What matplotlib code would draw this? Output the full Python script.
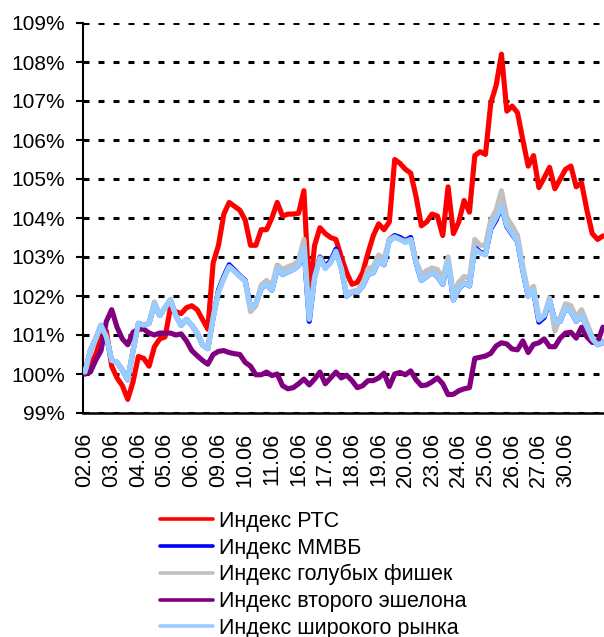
import numpy as np
import matplotlib
matplotlib.use("Agg")
import matplotlib.pyplot as plt

plt.rcParams['font.family'] = ['Liberation Sans', 'DejaVu Sans']
plt.rcParams['lines.scale_dashes'] = False

# trading days (tick labels), 5 readings per day
days = ["02.06", "03.06", "04.06", "05.06", "06.06", "09.06", "10.06", "11.06",
        "16.06", "17.06", "18.06", "19.06", "20.06", "23.06", "24.06", "25.06",
        "26.06", "27.06", "30.06"]
per_day = 5

rts = [100.0, 100.2, 100.5, 100.9, 101.1, 100.2, 99.9, 99.7, 99.35, 99.8,
       100.45, 100.4, 100.2, 100.7, 100.9, 100.95, 101.7, 101.6, 101.55, 101.7,
       101.75, 101.65, 101.4, 101.15, 102.85, 103.3, 104.1, 104.4, 104.3, 104.2,
       103.95, 103.3, 103.3, 103.7, 103.7, 104.0, 104.4, 104.05, 104.1, 104.1,
       104.12, 104.7, 102.0, 103.3, 103.75, 103.6, 103.5, 103.45, 103.0, 102.6,
       102.3, 102.35, 102.6, 103.1, 103.55, 103.85, 103.7, 103.9, 105.5, 105.4,
       105.25, 105.15, 104.55, 103.8, 103.9, 104.1, 104.05, 103.55, 104.8, 103.6,
       103.9, 104.45, 104.15, 105.6, 105.7, 105.63, 106.95, 107.4, 108.2, 106.74,
       106.87, 106.7, 106.0, 105.33, 105.6, 104.78, 105.03, 105.3, 104.75, 105.0,
       105.25, 105.33, 104.8, 104.9, 104.2, 103.6, 103.45, 103.54]

broad = [100.05, 100.6, 100.9, 101.25, 100.95, 100.35, 100.3, 100.1, 99.85, 100.6,
         101.3, 101.25, 101.3, 101.8, 101.5, 101.7, 101.9, 101.5, 101.25, 101.4,
         101.25, 101.05, 100.75, 100.65, 101.45, 102.1, 102.45, 102.75, 102.63, 102.5,
         102.38, 101.7, 101.8, 102.2, 102.3, 102.15, 102.7, 102.55, 102.62, 102.68,
         102.78, 103.25, 101.4, 102.45, 102.95, 102.7, 102.85, 103.15, 102.7, 102.0,
         102.1, 102.1, 102.25, 102.55, 102.6, 102.9, 102.8, 103.4, 103.5, 103.45,
         103.37, 103.45, 102.85, 102.4, 102.5, 102.6, 102.5, 102.3, 102.9, 101.9,
         102.18, 102.33, 102.26, 103.2, 103.1, 103.05, 103.75, 104.0, 104.3, 103.8,
         103.6, 103.4, 102.65, 102.0, 102.15, 101.38, 101.5, 101.9, 101.35, 101.35,
         101.7, 101.6, 101.35, 101.5, 101.2, 100.9, 100.75, 100.8]

micex = [100.05, 100.6, 100.9, 101.25, 100.95, 100.35, 100.3, 100.1, 99.85, 100.6,
         101.3, 101.25, 101.3, 101.8, 101.5, 101.7, 101.9, 101.5, 101.25, 101.4,
         101.25, 101.05, 100.75, 100.65, 101.45, 102.15, 102.5, 102.8, 102.66, 102.52,
         102.4, 101.7, 101.8, 102.2, 102.3, 102.15, 102.7, 102.55, 102.62, 102.68,
         102.78, 103.25, 101.35, 102.5, 103.0, 102.75, 102.9, 103.2, 102.72, 102.0,
         102.1, 102.1, 102.25, 102.55, 102.6, 102.9, 102.8, 103.45, 103.55, 103.5,
         103.42, 103.5, 102.85, 102.4, 102.5, 102.6, 102.5, 102.3, 102.9, 101.9,
         102.18, 102.33, 102.26, 103.25, 103.12, 103.08, 103.72, 103.95, 104.3, 103.78,
         103.58, 103.4, 102.65, 102.0, 102.15, 101.33, 101.45, 101.9, 101.35, 101.35,
         101.7, 101.6, 101.35, 101.5, 101.2, 100.9, 100.75, 100.8]

bluechip = [100.05, 100.6, 100.9, 101.25, 100.95, 100.35, 100.3, 100.1, 99.85, 100.6,
            101.3, 101.25, 101.3, 101.85, 101.5, 101.7, 101.9, 101.5, 101.25, 101.4,
            101.25, 101.05, 100.75, 100.65, 101.45, 102.1, 102.45, 102.75, 102.63, 102.5,
            102.38, 101.6, 101.75, 102.28, 102.4, 102.25, 102.8, 102.68, 102.75, 102.8,
            102.9, 103.45, 101.45, 102.5, 102.98, 102.72, 102.85, 103.1, 102.72, 102.05,
            102.12, 102.15, 102.3, 102.7, 102.75, 103.05, 102.95, 103.45, 103.52, 103.45,
            103.4, 103.45, 102.9, 102.55, 102.65, 102.72, 102.68, 102.45, 103.0, 102.05,
            102.35, 102.5, 102.45, 103.45, 103.3, 103.3, 103.95, 104.2, 104.7, 104.0,
            103.8, 103.55, 102.75, 102.1, 102.25, 101.45, 101.5, 101.95, 101.1, 101.45,
            101.8, 101.75, 101.45, 101.65, 101.3, 100.95, 100.8, 100.85]

second = [100.0, 100.05, 100.35, 100.6, 101.35, 101.65, 101.2, 100.9, 100.75, 101.07,
          101.15, 101.15, 101.05, 101.0, 101.05, 101.05, 101.05, 101.0, 101.03, 100.85,
          100.6, 100.47, 100.35, 100.25, 100.5, 100.58, 100.6, 100.55, 100.52, 100.5,
          100.3, 100.2, 99.98, 99.98, 100.05, 99.96, 100.0, 99.7, 99.62, 99.65,
          99.75, 99.87, 99.72, 99.87, 100.05, 99.75, 99.9, 100.05, 99.9, 99.97,
          99.83, 99.65, 99.7, 99.83, 99.83, 99.9, 100.02, 99.68, 100.0, 100.04,
          99.98, 100.08, 99.85, 99.7, 99.72, 99.8, 99.9, 99.75, 99.47, 99.48,
          99.57, 99.62, 99.65, 100.4, 100.43, 100.46, 100.53, 100.72, 100.8, 100.77,
          100.64, 100.62, 100.85, 100.55, 100.76, 100.8, 100.9, 100.7, 100.7, 100.92,
          101.05, 101.07, 100.92, 101.2, 100.95, 100.81, 100.82, 101.2]

series = [
    ("Индекс РТС", rts, "#FF0000"),
    ("Индекс ММВБ", micex, "#0000FF"),
    ("Индекс голубых фишек", bluechip, "#C0C0C0"),
    ("Индекс второго эшелона", second, "#800080"),
    ("Индекс широкого рынка", broad, "#99CCFF"),
]

t = np.arange(len(rts)) / per_day

fig = plt.figure(figsize=(6.04, 6.37), dpi=100)
ax = fig.add_axes([83/604, 1 - 413/637, 521/604, 390/637])

for k, (name, vals, col) in enumerate(series):
    ax.plot(t, vals, color=col, lw=3.7, label=name, zorder=3 + k,
            solid_joinstyle='round', solid_capstyle='round')

ax.set_ylim(99, 109)
ax.set_xlim(-0.075, 19.44)
ax.set_yticks(range(99, 110))
ax.set_yticklabels([f"{v}%" for v in range(99, 110)], fontsize=15)
ax.set_xticks(range(len(days)))
ax.set_xticklabels(days, rotation=90, fontsize=15.5)
ax.tick_params(axis='x', length=0, pad=14)
ax.tick_params(axis='y', length=5, width=1.5, pad=8)

ax.yaxis.grid(True, color='black', lw=2.2, linestyle=(0, (4.3, 6.5)))
ax.set_axisbelow(True)
for s in ['top', 'right']:
    ax.spines[s].set_visible(False)
ax.spines['left'].set_linewidth(1.5)
ax.spines['bottom'].set_linewidth(1.8)

leg = ax.legend(loc='upper left', bbox_to_anchor=(160/604, 1 - 511/637),
                bbox_transform=fig.transFigure, frameon=False, fontsize=15.5,
                handlelength=2.45, handletextpad=0.28, labelspacing=0.26,
                borderpad=0, borderaxespad=0)
for h in leg.get_lines():
    h.set_linewidth(2.6)

fig.savefig("out.png", dpi=100)
